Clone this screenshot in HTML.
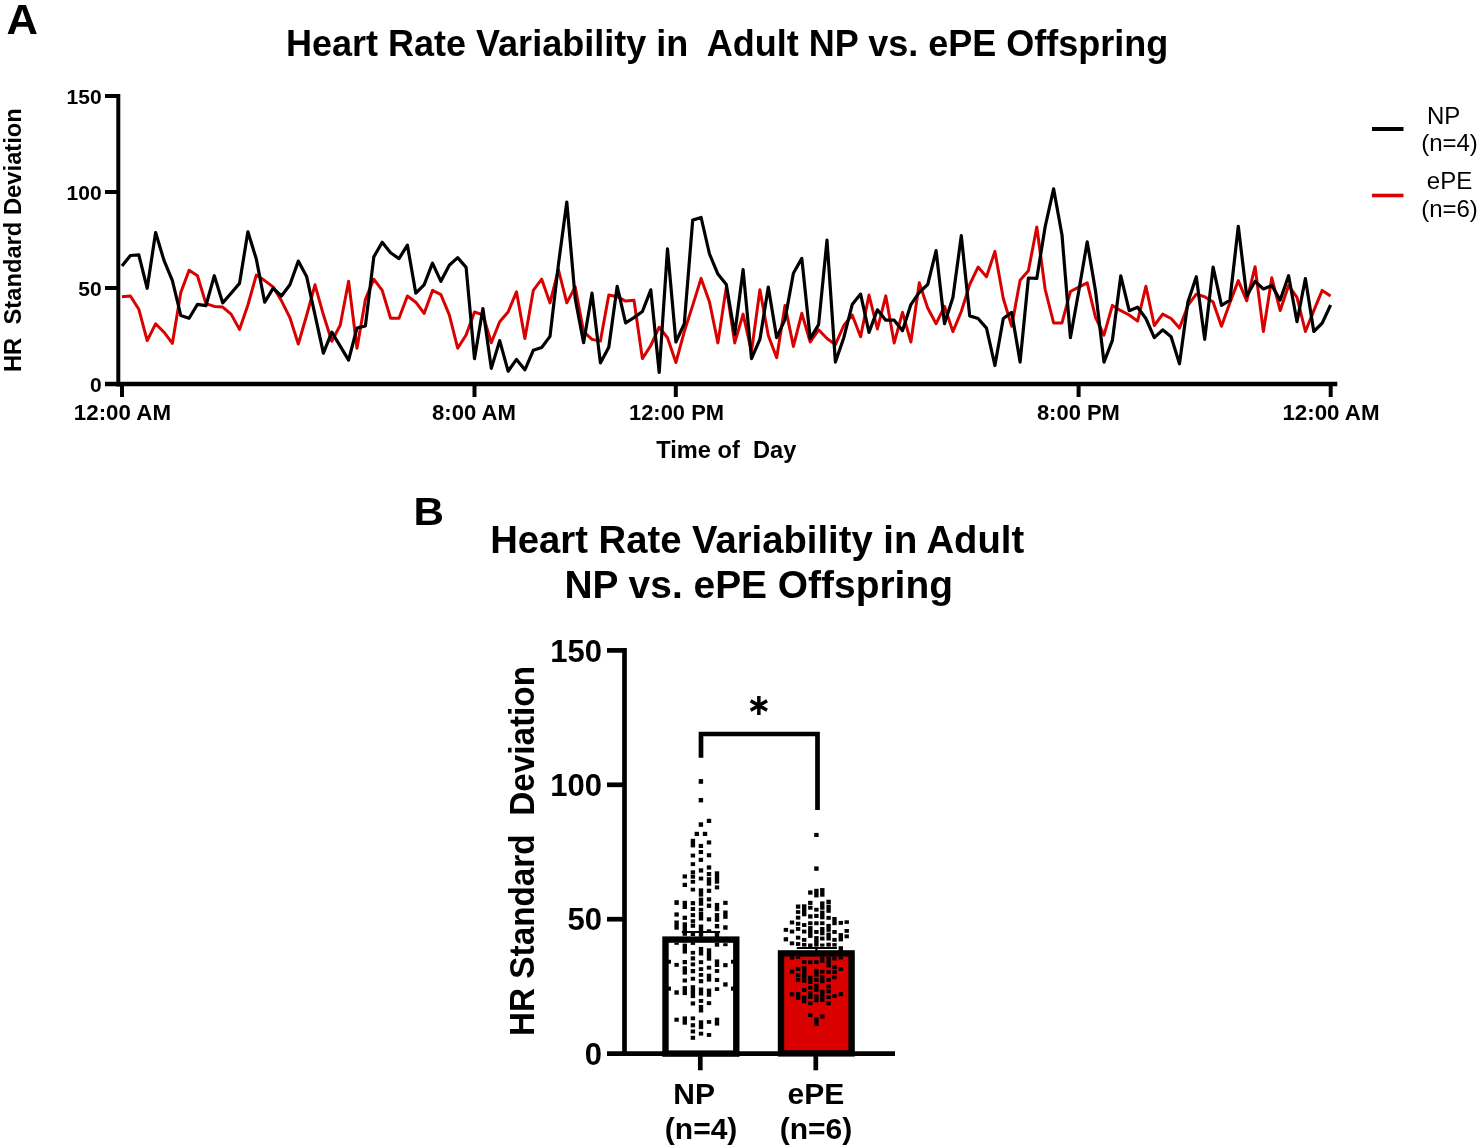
<!DOCTYPE html><html><head><meta charset="utf-8"><style>html,body{margin:0;padding:0;background:#fff;width:1480px;height:1148px;overflow:hidden}svg{display:block;will-change:transform}text{font-family:"Liberation Sans", sans-serif;font-weight:bold;fill:#000;white-space:pre}</style></head><body>
<svg width="1480" height="1148" viewBox="0 0 1480 1148">
<text x="6.6" y="33.5" font-size="43" textLength="31.5" lengthAdjust="spacingAndGlyphs">A</text>
<text x="286" y="55.6" font-size="36">Heart Rate Variability in  Adult NP vs. ePE Offspring</text>
<g stroke="#000" stroke-width="4" fill="none">
<path d="M118.3 94 V386.5"/>
<path d="M105 384 H1337.3" stroke-width="4.5"/>
<path d="M105 96 H118"/>
<path d="M105 192 H118"/>
<path d="M105 288 H118"/>
<path d="M122 384 V397"/>
<path d="M474.5 384 V397"/>
<path d="M675.8 384 V397"/>
<path d="M1078.6 384 V397"/>
<path d="M1330.7 384 V397"/>
</g>
<text x="101.6" y="104.4" font-size="21" text-anchor="end">150</text>
<text x="101.6" y="200" font-size="21" text-anchor="end">100</text>
<text x="101.6" y="296.3" font-size="21" text-anchor="end">50</text>
<text x="101.6" y="392.4" font-size="21" text-anchor="end">0</text>
<text x="122.4" y="419.9" font-size="22.4" textLength="97.2" lengthAdjust="spacingAndGlyphs" text-anchor="middle">12:00 AM</text>
<text x="474" y="419.9" font-size="22.4" textLength="84" lengthAdjust="spacingAndGlyphs" text-anchor="middle">8:00 AM</text>
<text x="676.5" y="419.9" font-size="22.4" textLength="95" lengthAdjust="spacingAndGlyphs" text-anchor="middle">12:00 PM</text>
<text x="1078.4" y="419.9" font-size="22.4" textLength="83" lengthAdjust="spacingAndGlyphs" text-anchor="middle">8:00 PM</text>
<text x="1331" y="419.9" font-size="22.4" textLength="97.2" lengthAdjust="spacingAndGlyphs" text-anchor="middle">12:00 AM</text>
<text x="726.3" y="457.6" font-size="23.6" text-anchor="middle" textLength="140" lengthAdjust="spacingAndGlyphs">Time of  Day</text>
<text transform="translate(20.5 240.1) rotate(-90)" font-size="23" text-anchor="middle" textLength="264" lengthAdjust="spacingAndGlyphs">HR  Standard Deviation</text>
<path d="M1372 129 H1403.5" stroke="#000" stroke-width="4"/>
<path d="M1372 195.5 H1403.5" stroke="#d90000" stroke-width="3.6"/>
<g style="font-weight:normal" font-size="24">
<text x="1427" y="123.5" style="font-weight:normal">NP</text>
<text x="1449.5" y="150.6" text-anchor="middle" style="font-weight:normal">(n=4)</text>
<text x="1449.5" y="189.4" text-anchor="middle" style="font-weight:normal">ePE</text>
<text x="1449.5" y="216.6" text-anchor="middle" style="font-weight:normal">(n=6)</text>
</g>
<path d="M122.0 296.7 L130.4 296.0 L138.8 309.2 L147.2 340.6 L155.6 323.8 L164.0 332.2 L172.4 343.3 L180.8 292.5 L189.1 270.2 L197.5 275.7 L205.9 303.6 L214.3 306.4 L222.7 307.1 L231.1 314.1 L239.5 329.4 L247.9 305.0 L256.3 275.1 L264.7 280.6 L273.1 286.9 L281.5 300.8 L289.9 317.6 L298.3 344.0 L306.6 315.5 L315.0 284.8 L323.4 314.8 L331.8 341.3 L340.2 325.2 L348.6 281.3 L357.0 348.2 L365.4 299.4 L373.8 279.2 L382.2 290.4 L390.6 318.3 L399.0 318.3 L407.4 296.0 L415.8 302.2 L424.1 313.4 L432.5 290.4 L440.9 294.6 L449.3 314.8 L457.7 348.2 L466.1 335.0 L474.5 312.0 L482.9 314.8 L491.3 342.8 L499.7 321.7 L508.1 312.0 L516.5 291.8 L524.9 338.5 L533.3 290.4 L541.7 279.2 L550.0 302.9 L558.4 269.5 L566.8 302.9 L575.2 286.9 L583.6 331.7 L592.0 339.4 L600.4 341.1 L608.8 295.0 L617.2 296.7 L625.6 301.1 L634.0 300.2 L642.4 358.6 L650.8 345.5 L659.2 327.2 L667.5 337.7 L675.9 362.5 L684.3 331.6 L692.7 305.4 L701.1 278.4 L709.5 302.0 L717.9 342.9 L726.3 287.1 L734.7 342.9 L743.1 314.1 L751.5 351.6 L759.9 289.8 L768.3 335.5 L776.7 357.7 L785.0 305.4 L793.4 346.4 L801.8 313.3 L810.2 342.0 L818.6 329.8 L827.0 338.5 L835.4 344.6 L843.8 325.5 L852.2 315.0 L860.6 336.8 L869.0 295.0 L877.4 329.0 L885.8 295.9 L894.2 342.9 L902.5 312.4 L910.9 342.0 L919.3 282.8 L927.7 308.0 L936.1 323.7 L944.5 306.3 L952.9 331.6 L961.3 311.5 L969.7 284.5 L978.1 267.1 L986.5 276.7 L994.9 251.4 L1003.3 298.5 L1011.7 326.3 L1020.1 280.2 L1028.4 270.8 L1036.8 227.0 L1045.2 289.5 L1053.6 322.9 L1062.0 322.9 L1070.4 291.5 L1078.8 287.1 L1087.2 282.8 L1095.6 317.6 L1104.0 335.1 L1112.4 305.4 L1120.8 310.7 L1129.2 315.0 L1137.6 321.1 L1145.9 286.3 L1154.3 325.5 L1162.7 314.1 L1171.1 318.5 L1179.5 328.1 L1187.9 305.4 L1196.3 294.1 L1204.7 296.7 L1213.1 302.0 L1221.5 326.3 L1229.9 302.8 L1238.3 280.6 L1246.7 300.8 L1255.1 266.7 L1263.4 331.5 L1271.8 277.8 L1280.2 310.6 L1288.6 285.5 L1297.0 297.4 L1305.4 331.5 L1313.8 310.6 L1322.2 290.4 L1330.6 296.0" fill="none" stroke="#d90000" stroke-width="3" stroke-linejoin="round"/>
<path d="M122.0 266.0 L130.4 255.5 L138.8 254.8 L147.2 288.3 L155.6 232.5 L164.0 260.4 L172.4 280.6 L180.8 315.5 L189.1 318.3 L197.5 304.3 L205.9 305.7 L214.3 275.7 L222.7 302.9 L231.1 293.2 L239.5 283.4 L247.9 231.8 L256.3 259.0 L264.7 302.2 L273.1 288.3 L281.5 296.0 L289.9 284.8 L298.3 261.1 L306.6 276.4 L315.0 314.8 L323.4 353.1 L331.8 332.2 L340.2 346.1 L348.6 360.1 L357.0 328.0 L365.4 325.9 L373.8 256.9 L382.2 242.3 L390.6 252.8 L399.0 258.6 L407.4 245.1 L415.8 293.2 L424.1 284.8 L432.5 263.2 L440.9 281.3 L449.3 265.3 L457.7 257.6 L466.1 267.4 L474.5 358.7 L482.9 308.5 L491.3 368.4 L499.7 340.6 L508.1 371.2 L516.5 359.4 L524.9 369.8 L533.3 350.3 L541.7 347.5 L550.0 336.4 L558.4 264.6 L566.8 202.0 L575.2 298.7 L583.6 342.7 L592.0 293.2 L600.4 362.9 L608.8 347.2 L617.2 286.3 L625.6 322.9 L634.0 317.6 L642.4 311.5 L650.8 289.8 L659.2 372.5 L667.5 248.8 L675.9 342.0 L684.3 323.7 L692.7 220.1 L701.1 217.5 L709.5 254.0 L717.9 274.1 L726.3 284.5 L734.7 334.2 L743.1 269.7 L751.5 358.6 L759.9 339.4 L768.3 287.1 L776.7 337.7 L785.0 319.4 L793.4 273.2 L801.8 258.4 L810.2 338.5 L818.6 324.6 L827.0 240.1 L835.4 362.1 L843.8 337.7 L852.2 304.6 L860.6 294.1 L869.0 332.4 L877.4 309.8 L885.8 320.2 L894.2 320.2 L902.5 330.7 L910.9 304.6 L919.3 292.4 L927.7 284.5 L936.1 250.6 L944.5 323.7 L952.9 297.6 L961.3 235.7 L969.7 315.9 L978.1 318.5 L986.5 328.1 L994.9 365.5 L1003.3 318.5 L1011.7 312.4 L1020.1 362.1 L1028.4 278.0 L1036.8 278.4 L1045.2 226.5 L1053.6 188.8 L1062.0 235.0 L1070.4 337.7 L1078.8 291.0 L1087.2 241.8 L1095.6 291.5 L1104.0 362.1 L1112.4 340.3 L1120.8 275.8 L1129.2 310.7 L1137.6 307.2 L1145.9 318.5 L1154.3 337.7 L1162.7 329.8 L1171.1 336.8 L1179.5 363.8 L1187.9 302.0 L1196.3 276.7 L1204.7 339.4 L1213.1 267.1 L1221.5 305.4 L1229.9 300.2 L1238.3 226.3 L1246.7 296.0 L1255.1 281.3 L1263.4 289.0 L1271.8 285.5 L1280.2 300.1 L1288.6 275.7 L1297.0 321.7 L1305.4 278.5 L1313.8 331.5 L1322.2 323.1 L1330.6 305.0" fill="none" stroke="#000" stroke-width="3.2" stroke-linejoin="round"/>
<text x="413.6" y="524.8" font-size="38.5" textLength="30.5" lengthAdjust="spacingAndGlyphs">B</text>
<text x="757.2" y="553.4" font-size="38.5" text-anchor="middle" textLength="534" lengthAdjust="spacingAndGlyphs">Heart Rate Variability in Adult</text>
<text x="758.7" y="597.9" font-size="38.5" text-anchor="middle" textLength="388.5" lengthAdjust="spacingAndGlyphs">NP vs. ePE Offspring</text>
<text transform="translate(533.6 851) rotate(-90)" font-size="35" text-anchor="middle" textLength="370" lengthAdjust="spacingAndGlyphs">HR Standard  Deviation</text>
<rect x="665.5" y="939.6" width="70.8" height="114" fill="#fff" stroke="#000" stroke-width="6.4"/>
<rect x="781" y="953.4" width="70.6" height="100" fill="#db0000" stroke="#000" stroke-width="6.4"/>
<g fill="#000"><rect x="698.7" y="779.1" width="4.4" height="4.7"/><rect x="698.7" y="798.0" width="4.4" height="4.4"/><rect x="706.8" y="818.8" width="4.4" height="4.2"/><rect x="698.7" y="822.3" width="4.4" height="4.5"/><rect x="694.6" y="831.8" width="4.4" height="4.2"/><rect x="702.8" y="831.8" width="4.4" height="4.2"/><rect x="690.7" y="838.8" width="4.4" height="8.6"/><rect x="706.8" y="840.4" width="4.4" height="4.1"/><rect x="698.7" y="843.9" width="4.4" height="4.1"/><rect x="698.7" y="850.0" width="4.4" height="4.1"/><rect x="690.7" y="853.6" width="4.4" height="3.9"/><rect x="706.8" y="853.2" width="4.4" height="4.1"/><rect x="698.7" y="857.8" width="4.4" height="4.1"/><rect x="698.8" y="868.3" width="4.4" height="4.3"/><rect x="698.8" y="876.6" width="4.4" height="3.9"/><rect x="698.8" y="888.3" width="4.4" height="8.3"/><rect x="698.8" y="897.6" width="4.4" height="8.1"/><rect x="698.8" y="907.9" width="4.4" height="3.5"/><rect x="698.8" y="911.8" width="4.4" height="8.7"/><rect x="698.8" y="924.5" width="4.4" height="12.0"/><rect x="690.7" y="862.2" width="4.4" height="3.9"/><rect x="690.7" y="870.3" width="4.4" height="4.1"/><rect x="690.7" y="874.8" width="4.4" height="3.9"/><rect x="690.7" y="879.9" width="4.4" height="3.8"/><rect x="690.7" y="887.7" width="4.4" height="3.8"/><rect x="690.7" y="901.1" width="4.4" height="4.2"/><rect x="690.7" y="907.0" width="4.4" height="4.0"/><rect x="690.7" y="913.1" width="4.4" height="4.0"/><rect x="690.7" y="919.2" width="4.4" height="3.7"/><rect x="690.7" y="923.6" width="4.4" height="4.2"/><rect x="690.7" y="931.5" width="4.4" height="4.5"/><rect x="706.8" y="865.4" width="4.4" height="4.2"/><rect x="706.8" y="872.0" width="4.4" height="4.1"/><rect x="706.8" y="877.2" width="4.4" height="8.5"/><rect x="706.8" y="888.7" width="4.4" height="4.2"/><rect x="706.8" y="897.3" width="4.4" height="4.1"/><rect x="706.8" y="903.6" width="4.4" height="4.3"/><rect x="706.8" y="917.3" width="4.4" height="4.1"/><rect x="706.8" y="929.3" width="4.4" height="3.7"/><rect x="682.6" y="874.4" width="4.4" height="4.1"/><rect x="682.6" y="882.8" width="4.4" height="4.2"/><rect x="682.6" y="900.8" width="4.4" height="8.2"/><rect x="682.6" y="915.7" width="4.4" height="4.2"/><rect x="682.6" y="922.3" width="4.4" height="13.5"/><rect x="682.6" y="943.6" width="4.4" height="10.0"/><rect x="714.8" y="871.3" width="4.4" height="12.4"/><rect x="714.8" y="885.4" width="4.4" height="4.0"/><rect x="714.8" y="902.9" width="4.4" height="8.3"/><rect x="714.8" y="913.1" width="4.4" height="8.7"/><rect x="714.8" y="924.0" width="4.4" height="4.4"/><rect x="714.8" y="933.0" width="4.4" height="4.0"/><rect x="714.8" y="942.8" width="4.4" height="3.9"/><rect x="674.4" y="900.2" width="4.4" height="4.7"/><rect x="674.4" y="912.4" width="4.4" height="4.2"/><rect x="674.4" y="920.5" width="4.4" height="9.2"/><rect x="674.4" y="942.8" width="4.4" height="2.0"/><rect x="723.2" y="900.8" width="4.4" height="4.1"/><rect x="723.2" y="910.5" width="4.4" height="8.3"/><rect x="723.2" y="925.3" width="4.4" height="4.4"/><rect x="723.2" y="943.2" width="4.4" height="3.0"/><rect x="674.4" y="962.9" width="4.4" height="3.9"/><rect x="674.4" y="990.3" width="4.4" height="4.4"/><rect x="674.4" y="1017.7" width="4.4" height="4.0"/><rect x="682.6" y="960.0" width="4.4" height="4.2"/><rect x="682.6" y="966.3" width="4.4" height="8.3"/><rect x="682.6" y="978.5" width="4.4" height="4.0"/><rect x="682.6" y="986.1" width="4.4" height="9.0"/><rect x="682.6" y="1016.4" width="4.4" height="8.3"/><rect x="690.7" y="942.3" width="4.4" height="2.6"/><rect x="690.7" y="950.9" width="4.4" height="3.7"/><rect x="690.7" y="956.3" width="4.4" height="4.2"/><rect x="690.7" y="962.4" width="4.4" height="3.9"/><rect x="690.7" y="969.0" width="4.4" height="4.3"/><rect x="690.7" y="976.8" width="4.4" height="3.9"/><rect x="690.7" y="985.2" width="4.4" height="12.9"/><rect x="690.7" y="1001.4" width="4.4" height="4.1"/><rect x="690.7" y="1016.4" width="4.4" height="3.9"/><rect x="690.7" y="1023.2" width="4.4" height="4.1"/><rect x="690.7" y="1029.5" width="4.4" height="3.9"/><rect x="690.7" y="1035.8" width="4.4" height="4.0"/><rect x="698.8" y="946.9" width="4.4" height="8.6"/><rect x="698.8" y="960.2" width="4.4" height="4.0"/><rect x="698.8" y="967.2" width="4.4" height="3.9"/><rect x="698.8" y="973.0" width="4.4" height="3.8"/><rect x="698.8" y="979.1" width="4.4" height="4.2"/><rect x="698.8" y="987.5" width="4.4" height="8.0"/><rect x="698.8" y="999.0" width="4.4" height="3.9"/><rect x="698.8" y="1004.9" width="4.4" height="7.6"/><rect x="698.8" y="1020.3" width="4.4" height="8.8"/><rect x="698.8" y="1031.7" width="4.4" height="3.9"/><rect x="706.8" y="948.3" width="4.4" height="12.4"/><rect x="706.8" y="965.7" width="4.4" height="3.9"/><rect x="706.8" y="973.7" width="4.4" height="7.9"/><rect x="706.8" y="988.6" width="4.4" height="8.2"/><rect x="706.8" y="1001.2" width="4.4" height="3.9"/><rect x="706.8" y="1020.1" width="4.4" height="3.7"/><rect x="706.8" y="1033.0" width="4.4" height="3.9"/><rect x="714.8" y="959.4" width="4.4" height="7.6"/><rect x="714.8" y="969.0" width="4.4" height="3.9"/><rect x="714.8" y="977.9" width="4.4" height="4.1"/><rect x="714.8" y="987.2" width="4.4" height="3.8"/><rect x="714.8" y="1017.7" width="4.4" height="7.9"/><rect x="723.2" y="963.1" width="4.4" height="4.1"/><rect x="723.2" y="982.3" width="4.4" height="4.3"/><rect x="666.6" y="959.8" width="4.4" height="3.9"/><rect x="666.6" y="986.6" width="4.4" height="4.1"/><rect x="731.0" y="959.8" width="4.4" height="3.9"/><rect x="731.0" y="986.6" width="4.4" height="4.1"/><rect x="814.2" y="832.9" width="4.4" height="4.1"/><rect x="814.2" y="866.4" width="4.4" height="4.4"/><rect x="814.2" y="888.8" width="4.4" height="8.6"/><rect x="814.2" y="907.8" width="4.4" height="3.8"/><rect x="814.2" y="913.9" width="4.4" height="4.1"/><rect x="814.2" y="921.3" width="4.4" height="3.9"/><rect x="814.2" y="930.0" width="4.4" height="3.9"/><rect x="814.2" y="936.1" width="4.4" height="10.5"/><rect x="814.2" y="960.1" width="4.4" height="3.9"/><rect x="814.2" y="968.8" width="4.4" height="7.8"/><rect x="814.2" y="977.9" width="4.4" height="4.0"/><rect x="814.2" y="983.6" width="4.4" height="8.3"/><rect x="814.2" y="994.5" width="4.4" height="7.8"/><rect x="814.2" y="1017.4" width="4.4" height="8.5"/><rect x="808.1" y="890.4" width="4.4" height="4.3"/><rect x="808.1" y="900.8" width="4.4" height="4.1"/><rect x="808.1" y="905.8" width="4.4" height="3.9"/><rect x="808.1" y="914.3" width="4.4" height="4.3"/><rect x="808.1" y="921.3" width="4.4" height="3.9"/><rect x="808.1" y="926.1" width="4.4" height="11.8"/><rect x="808.1" y="943.5" width="4.4" height="4.0"/><rect x="808.1" y="960.3" width="4.4" height="3.9"/><rect x="808.1" y="975.8" width="4.4" height="8.2"/><rect x="808.1" y="985.8" width="4.4" height="3.9"/><rect x="808.1" y="991.0" width="4.4" height="7.9"/><rect x="808.1" y="1001.3" width="4.4" height="3.9"/><rect x="808.1" y="1013.1" width="4.4" height="4.0"/><rect x="820.1" y="888.1" width="4.4" height="8.6"/><rect x="820.1" y="901.4" width="4.4" height="8.3"/><rect x="820.1" y="910.6" width="4.4" height="8.7"/><rect x="820.1" y="921.3" width="4.4" height="3.9"/><rect x="820.1" y="927.0" width="4.4" height="8.3"/><rect x="820.1" y="936.6" width="4.4" height="3.9"/><rect x="820.1" y="943.5" width="4.4" height="3.1"/><rect x="820.1" y="956.6" width="4.4" height="6.1"/><rect x="820.1" y="969.7" width="4.4" height="3.9"/><rect x="820.1" y="974.9" width="4.4" height="8.3"/><rect x="820.1" y="989.7" width="4.4" height="12.2"/><rect x="820.1" y="1014.6" width="4.4" height="4.0"/><rect x="826.4" y="899.7" width="4.4" height="4.4"/><rect x="826.4" y="904.7" width="4.4" height="8.1"/><rect x="826.4" y="915.9" width="4.4" height="3.9"/><rect x="826.4" y="923.9" width="4.4" height="7.9"/><rect x="826.4" y="932.6" width="4.4" height="7.9"/><rect x="826.4" y="942.7" width="4.4" height="3.9"/><rect x="826.4" y="956.6" width="4.4" height="10.9"/><rect x="826.4" y="970.1" width="4.4" height="3.9"/><rect x="826.4" y="977.9" width="4.4" height="4.0"/><rect x="826.4" y="984.5" width="4.4" height="3.9"/><rect x="826.4" y="989.3" width="4.4" height="3.9"/><rect x="826.4" y="995.4" width="4.4" height="3.7"/><rect x="826.4" y="1001.3" width="4.4" height="3.9"/><rect x="795.9" y="904.5" width="4.4" height="4.2"/><rect x="795.9" y="910.2" width="4.4" height="3.7"/><rect x="795.9" y="915.7" width="4.4" height="3.9"/><rect x="795.9" y="921.8" width="4.4" height="3.9"/><rect x="795.9" y="927.0" width="4.4" height="3.9"/><rect x="795.9" y="935.7" width="4.4" height="3.9"/><rect x="795.9" y="942.1" width="4.4" height="3.8"/><rect x="795.9" y="956.6" width="4.4" height="2.2"/><rect x="795.9" y="967.1" width="4.4" height="3.9"/><rect x="795.9" y="973.2" width="4.4" height="3.9"/><rect x="795.9" y="977.9" width="4.4" height="4.0"/><rect x="795.9" y="991.9" width="4.4" height="8.1"/><rect x="802.0" y="904.3" width="4.4" height="12.0"/><rect x="802.0" y="923.1" width="4.4" height="3.9"/><rect x="802.0" y="929.6" width="4.4" height="3.9"/><rect x="802.0" y="937.9" width="4.4" height="3.9"/><rect x="802.0" y="942.9" width="4.4" height="3.7"/><rect x="802.0" y="960.1" width="4.4" height="3.9"/><rect x="802.0" y="966.2" width="4.4" height="16.5"/><rect x="802.0" y="988.0" width="4.4" height="3.9"/><rect x="802.0" y="995.4" width="4.4" height="7.8"/><rect x="832.3" y="917.0" width="4.4" height="8.2"/><rect x="832.3" y="930.0" width="4.4" height="3.9"/><rect x="832.3" y="937.9" width="4.4" height="3.9"/><rect x="832.3" y="943.1" width="4.4" height="3.5"/><rect x="832.3" y="956.6" width="4.4" height="3.9"/><rect x="832.3" y="965.3" width="4.4" height="3.9"/><rect x="832.3" y="970.1" width="4.4" height="3.9"/><rect x="832.3" y="975.3" width="4.4" height="4.0"/><rect x="832.3" y="994.2" width="4.4" height="3.8"/><rect x="783.7" y="927.9" width="4.4" height="3.9"/><rect x="783.7" y="937.2" width="4.4" height="4.2"/><rect x="789.8" y="920.5" width="4.4" height="3.9"/><rect x="789.8" y="929.6" width="4.4" height="3.9"/><rect x="789.8" y="941.4" width="4.4" height="3.9"/><rect x="789.8" y="956.6" width="4.4" height="3.1"/><rect x="789.8" y="969.7" width="4.4" height="3.9"/><rect x="789.8" y="992.3" width="4.4" height="3.9"/><rect x="838.6" y="920.9" width="4.4" height="3.9"/><rect x="838.6" y="933.1" width="4.4" height="8.3"/><rect x="838.6" y="946.2" width="4.4" height="4.8"/><rect x="838.6" y="956.6" width="4.4" height="2.9"/><rect x="838.6" y="967.1" width="4.4" height="3.9"/><rect x="838.6" y="992.1" width="4.4" height="4.0"/><rect x="844.5" y="920.3" width="4.4" height="3.6"/><rect x="844.5" y="929.0" width="4.4" height="3.8"/><rect x="844.5" y="934.4" width="4.4" height="3.9"/></g>
<path d="M681.8 932 H720.1 M701 932 V937" stroke="#000" stroke-width="2.2" fill="none"/>
<path d="M796.8 948 H836.9 M816.4 948 V951" stroke="#000" stroke-width="2.2" fill="none"/>
<g stroke="#000" stroke-width="4.7" fill="none">
<path d="M624.5 648 V1056"/>
<path d="M607 1053.7 H895"/>
<path d="M607 650.4 H624"/>
<path d="M607 784.8 H624"/>
<path d="M607 919.2 H624"/>
<path d="M700.3 1053 V1070.3"/>
<path d="M815.8 1053 V1070.3"/>
<path d="M701 757.8 V734 H817.5 V810"/>
</g>
<text x="601.9" y="661.7" font-size="31" text-anchor="end">150</text>
<text x="601.9" y="796.2" font-size="31" text-anchor="end">100</text>
<text x="601.9" y="930.4" font-size="31" text-anchor="end">50</text>
<text x="601.9" y="1065.4" font-size="31" text-anchor="end">0</text>
<text x="694.2" y="1103.9" font-size="30" text-anchor="middle">NP</text>
<text x="701.1" y="1138.5" font-size="30" text-anchor="middle">(n=4)</text>
<text x="815.9" y="1103.9" font-size="30" text-anchor="middle">ePE</text>
<text x="816" y="1138.5" font-size="30" text-anchor="middle">(n=6)</text>
<path d="M758.85 696 V715 M750.65 700.7 L767.05 710.3 M750.65 710.3 L767.05 700.7" stroke="#000" stroke-width="3.5" fill="none"/>
</svg></body></html>
